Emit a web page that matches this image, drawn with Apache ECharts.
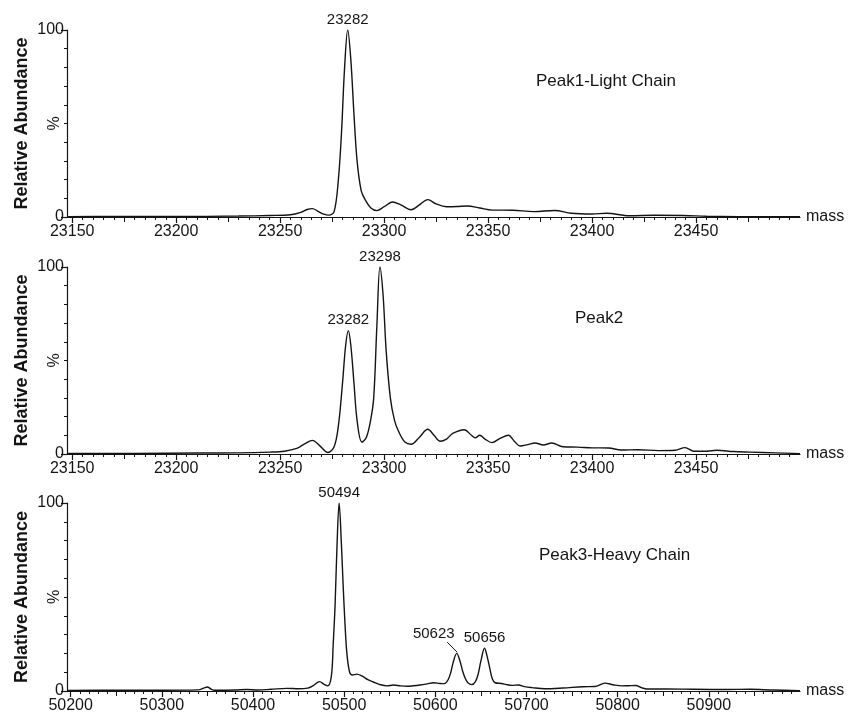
<!DOCTYPE html>
<html>
<head>
<meta charset="utf-8">
<script src="https://cdn.jsdelivr.net/npm/echarts@6/dist/echarts.min.js"></script>
<style>html,body{margin:0;padding:0;background:#fff;}#c{width:848px;height:714px;}</style>
</head>
<body>
<div id="c"></div>
<script>
// ---- Data ----
const lightMass = [23148,23170,23200,23230,23245,23255,23260,23263,23265.5,23268,23271,23273.5,23276,23278,23279.5,23281,23282.5,23284,23285.5,23287,23289,23291,23293.5,23296.5,23300,23304,23308,23313,23317,23321,23325,23330,23335,23340,23346,23352,23362,23372,23382,23390,23400,23407,23418,23430,23444,23455,23470,23500];
const lightAbund = [0.2,0.3,0.3,0.5,0.8,1.2,2.5,4,4.5,3.2,1.5,1,3,20,45,80,100,84,55,30,14,9,5,3.4,5.5,8,6.5,3.9,6.5,9.3,7,5.5,5.6,5.9,4.8,3.7,3.6,2.9,3.5,2,1.6,2,0.7,0.9,0.8,0.4,0.2,0.1];

const peak2Mass = [23148,23180,23210,23230,23245,23252,23258,23262,23265.5,23269,23273,23276,23278,23280,23281.5,23282.8,23284,23285.5,23287,23289.3,23291.5,23293.5,23295,23296.5,23298,23299.5,23301,23303,23305,23307,23310,23313,23317,23321,23324,23327,23330,23333,23338.5,23342,23343.8,23346,23348.5,23351.8,23356,23359.8,23362.5,23365.4,23369,23372.6,23376.6,23380.6,23386,23393,23400,23408,23414,23422,23432,23440,23444.7,23449,23455,23460,23468,23476,23488,23500];
const peak2Abund = [0.3,0.3,0.5,0.6,1,1.5,3,5.5,7.3,4.5,0.8,4,15,38,58,66,58,38,18,6.4,9,18,30,68,100,85,55,30,18,12,6.4,5.2,9,13.2,10,6.8,8,11,13,10,8.6,10,8,6.1,8.5,10,7,4.3,5,5.9,4.8,5.9,3.9,3.7,3.3,3.2,2.1,2.3,1.8,2,3.4,1.5,1.5,2,1.3,1,0.6,0.2];

const heavyMass = [50197,50250,50300,50340,50346,50350,50354,50358,50380,50393,50405,50420,50437,50450,50460,50466,50473,50478,50482,50486,50488,50490,50492,50494.5,50497,50499,50501,50503,50506,50509,50514,50519.5,50526,50532,50540,50547,50554,50562,50569,50576,50583,50591,50598,50605,50610,50614,50617,50620,50623.5,50627,50630,50633,50636,50640,50644,50647,50650,50654,50657,50660,50662.5,50665.5,50672.7,50678,50684,50691,50698,50706,50720,50740,50762,50775,50786,50795,50805,50812,50820,50826,50832,50854,50883,50920,50945,50970,51000];
const heavyAbund = [0.3,0.4,0.4,0.6,1.5,2.1,1,0.4,0.5,0.8,0.5,0.9,1.4,1.2,1.5,2.8,5,3.5,2.7,8,25,45,75,100,78,55,35,20,10,8.5,9,8,6,4.8,3.3,2.7,3.2,2.7,2.5,2.8,3.2,3.8,4.4,4,3.9,6,10,16,20,16,10.5,6.5,4.2,3.4,5,9,16,22.7,18,11.5,6.5,4.4,4,3.4,3,3.2,2.3,1.8,1.2,1.6,2.3,2.4,4.2,3.3,2.7,2.8,2.9,1.8,1.1,1.1,0.9,0.8,0.9,0.5,0.2];

// Peak annotations: [mass, abundance, label]
const lightPeaks = [[23282.5, 100, '23282']];
const peak2Peaks = [[23282.8, 66, '23282'], [23298, 100, '23298']];
const heavyPeaks = [[50494.5, 100, '50494'], [50654, 22.7, '50656']];
const heavyLeaderPeak = [[50623.5, 20, '50623']];

// Tick labels
const lowTickLabels = [23150, 23200, 23250, 23300, 23350, 23400, 23450];
const highTickLabels = [50200, 50300, 50400, 50500, 50600, 50700, 50800, 50900];
const yTickLabels = [0, 100];
const panelTitles = ['Peak1-Light Chain', 'Peak2', 'Peak3-Heavy Chain'];

// ---- Build chart ----
const FONT = '"Liberation Sans", Arial, Helvetica, sans-serif';
const INK = '#141414';
function range(a, b, step) { const r = []; for (let v = a; v <= b + 1e-9; v += step) r.push(v); return r; }
function zip(xs, ys) { return xs.map((x, i) => [x, ys[i]]); }

const panels = [
  { top: 30, height: 187, min: 23147.5, max: 23500, labels: lowTickLabels, mid: range(23175, 23475, 50), minor: range(23150, 23495, 5), data: zip(lightMass, lightAbund), peaks: lightPeaks },
  { top: 267, height: 187, min: 23147.5, max: 23500, labels: lowTickLabels, mid: range(23175, 23475, 50), minor: range(23150, 23495, 5), data: zip(peak2Mass, peak2Abund), peaks: peak2Peaks },
  { top: 503, height: 188, min: 50196, max: 51000, labels: highTickLabels, mid: range(50250, 50950, 100), minor: range(50200, 50990, 10), data: zip(heavyMass, heavyAbund), peaks: heavyPeaks }
];

const grid = [], xAxis = [], yAxis = [], series = [];
panels.forEach((p, g) => {
  grid.push({ left: 67, right: 48, top: p.top, height: p.height });
  xAxis.push({
    type: 'value', gridIndex: g, position: 'bottom', min: p.min, max: p.max,
    axisLine: { show: true, onZero: false, lineStyle: { color: INK, width: 1.2 } },
    axisTick: { show: true, customValues: p.labels, length: 6, lineStyle: { color: INK, width: 1.2 } },
    axisLabel: { show: true, customValues: p.labels, formatter: (v) => String(Math.round(v)), fontSize: 16, color: INK, fontFamily: FONT, margin: 7 },
    splitLine: { show: false },
    name: 'mass', nameLocation: 'end', nameGap: 6, nameMoveOverlap: false,
    nameTextStyle: { fontSize: 16, color: INK, fontFamily: FONT, verticalAlign: 'middle' }
  });
  xAxis.push({
    type: 'value', gridIndex: g, position: 'bottom', min: p.min, max: p.max,
    axisLine: { show: false }, axisLabel: { show: false }, splitLine: { show: false },
    axisTick: { show: true, customValues: p.mid, length: 5, lineStyle: { color: INK, width: 1 } }
  });
  xAxis.push({
    type: 'value', gridIndex: g, position: 'bottom', min: p.min, max: p.max,
    axisLine: { show: false }, axisLabel: { show: false }, splitLine: { show: false },
    axisTick: { show: true, customValues: p.minor, length: 3, lineStyle: { color: INK, width: 1 } }
  });
  yAxis.push({
    type: 'value', gridIndex: g, position: 'left', min: 0, max: 100,
    axisLine: { show: true, onZero: false, lineStyle: { color: INK, width: 1.2 } },
    axisTick: { show: true, customValues: yTickLabels, length: 6, lineStyle: { color: INK, width: 1.2 } },
    axisLabel: { show: true, customValues: yTickLabels, formatter: (v) => String(Math.round(v)), fontSize: 16, color: INK, fontFamily: FONT, margin: 3 },
    splitLine: { show: false },
    name: 'Relative Abundance', nameLocation: 'middle', nameGap: 36, nameMoveOverlap: false,
    nameTextStyle: { fontSize: 18, fontWeight: 'bold', color: INK, fontFamily: FONT }
  });
  yAxis.push({
    type: 'value', gridIndex: g, position: 'left', min: 0, max: 100,
    axisLine: { show: false }, axisLabel: { show: false }, splitLine: { show: false },
    axisTick: { show: true, customValues: range(10, 90, 10), length: 3, lineStyle: { color: INK, width: 1 } }
  });
  yAxis.push({
    type: 'value', gridIndex: g, position: 'left', min: 0, max: 100,
    axisLine: { show: false }, axisTick: { show: false }, splitLine: { show: false },
    axisLabel: { show: true, customValues: [50], formatter: () => '%', rotate: 90, fontSize: 16, color: INK, fontFamily: FONT, margin: 4 }
  });

  const s = {
    type: 'line', xAxisIndex: 3 * g, yAxisIndex: 3 * g, data: p.data,
    showSymbol: false, smooth: 0.35, silent: true,
    lineStyle: { color: INK, width: 1.4 },
    markPoint: {
      symbol: 'circle', symbolSize: 0, silent: true,
      label: { show: true, position: 'top', distance: 3, fontSize: 15, color: INK, fontFamily: FONT, formatter: (d) => d.name },
      data: p.peaks.map(k => ({ coord: [k[0], k[1]], name: k[2] }))
    }
  };
  if (g === 2) {
    s.markPoint.data = s.markPoint.data.concat(heavyLeaderPeak.map(k => ({
      coord: [k[0], k[1]], name: k[2],
      label: { offset: [-23, -9] }
    })));
    s.markLine = {
      silent: true, symbol: ['none', 'none'],
      lineStyle: { color: INK, width: 1, type: 'solid' }, label: { show: false },
      data: [[{ coord: [50613, 26] }, { coord: [50624, 20.6] }]]
    };
  }
  series.push(s);
});

const title = [
  { text: panelTitles[0], left: 536, top: 73 },
  { text: panelTitles[1], left: 575, top: 310 },
  { text: panelTitles[2], left: 539, top: 547 }
].map(t => Object.assign(t, { padding: 0, textStyle: { fontSize: 17, fontWeight: 'normal', color: INK, fontFamily: FONT } }));

const chart = echarts.init(document.getElementById('c'), null, { renderer: 'canvas' });
chart.setOption({ animation: false, backgroundColor: '#fff', title, grid, xAxis, yAxis, series });
</script>
</body>
</html>
